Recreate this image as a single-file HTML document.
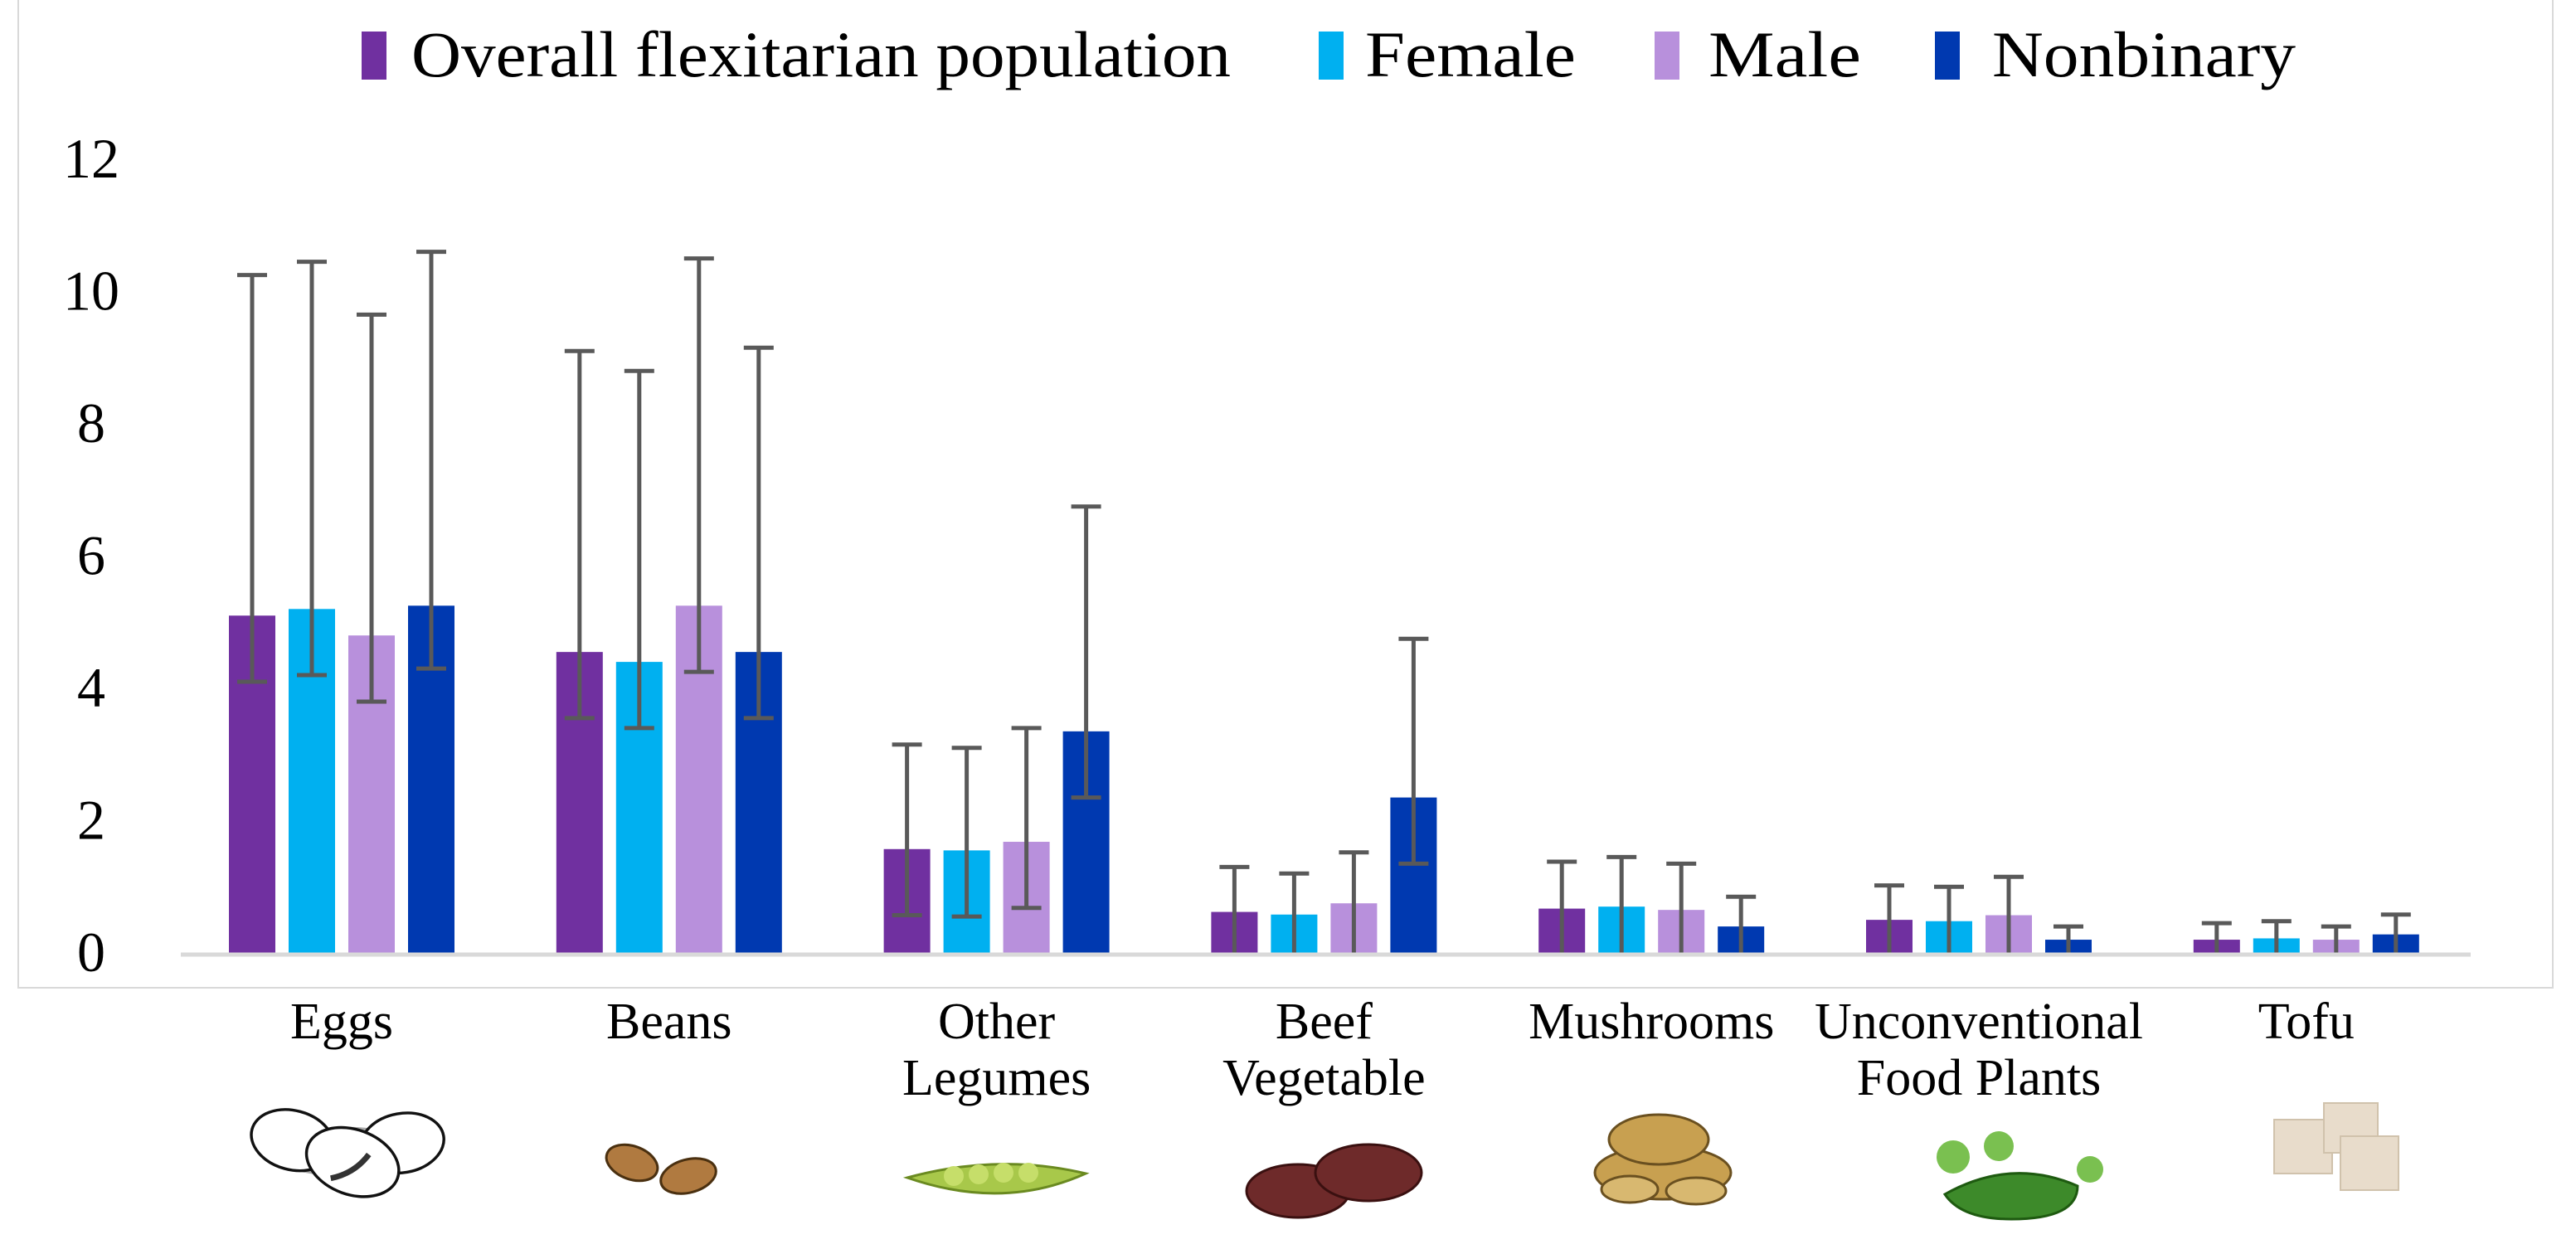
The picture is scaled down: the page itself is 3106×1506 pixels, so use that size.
<!DOCTYPE html>
<html><head><meta charset="utf-8"><style>
html,body{margin:0;padding:0;background:#fff;}
svg{display:block;font-family:"Liberation Serif",serif;}
</style></head><body>
<svg id="chart" width="3106" height="1506" viewBox="0 0 3106 1506">
<rect x="22" y="-2" width="3056" height="1193" fill="none" stroke="#d9d9d9" stroke-width="2"/>
<g>
 <rect x="436" y="38" width="30" height="58" fill="#7030a0"/>
 <text x="496" y="92" font-size="78" textLength="988" lengthAdjust="spacingAndGlyphs">Overall flexitarian population</text>
 <rect x="1590" y="38" width="30" height="58" fill="#00b0f0"/>
 <text x="1646" y="92" font-size="78" textLength="254" lengthAdjust="spacingAndGlyphs">Female</text>
 <rect x="1995" y="38" width="30" height="58" fill="#b890dc"/>
 <text x="2060" y="92" font-size="78" textLength="184" lengthAdjust="spacingAndGlyphs">Male</text>
 <rect x="2333" y="38" width="30" height="58" fill="#0039b0"/>
 <text x="2402" y="92" font-size="78" textLength="366" lengthAdjust="spacingAndGlyphs">Nonbinary</text>
</g>
<g id="yaxis"></g>
<g id="bars"></g>
<g id="errs"></g>
<line x1="218" y1="1151" x2="2979" y2="1151" stroke="#d9d9d9" stroke-width="5"/>
<g id="xlabels"></g>
<g>
 <g fill="#fff" stroke="#111" stroke-width="3" transform="translate(416 1392) scale(1.15) translate(-360 -1395)">
  <ellipse cx="360" cy="1392" rx="80" ry="26" fill="#555" stroke="none" opacity="0.5"/>
  <ellipse cx="305" cy="1380" rx="44" ry="31" transform="rotate(15 305 1380)"/>
  <ellipse cx="420" cy="1383" rx="44" ry="31" transform="rotate(-10 420 1383)"/>
  <ellipse cx="368" cy="1403" rx="50" ry="34" transform="rotate(20 368 1403)"/>
  <path d="M345 1420 q25 -5 40 -25" stroke="#333" stroke-width="6" fill="none"/>
 </g>
 <g fill="#b07a40" stroke="#4a3010" stroke-width="3">
  <ellipse cx="762" cy="1402" rx="32" ry="20" transform="rotate(20 762 1402)"/>
  <ellipse cx="830" cy="1418" rx="34" ry="20" transform="rotate(-15 830 1418)"/>
 </g>
 <g>
  <path d="M1094 1420 q110 -30 215 -5 q-100 45 -215 5z" fill="#a8c84a" stroke="#6a8a20" stroke-width="3"/>
  <circle cx="1150" cy="1418" r="12" fill="#c6de6a"/><circle cx="1180" cy="1416" r="12" fill="#c6de6a"/><circle cx="1210" cy="1414" r="12" fill="#c6de6a"/><circle cx="1240" cy="1414" r="12" fill="#c6de6a"/>
 </g>
 <g fill="#6e2a2a" stroke="#3a1010" stroke-width="3">
  <ellipse cx="1565" cy="1436" rx="62" ry="32"/>
  <ellipse cx="1650" cy="1414" rx="64" ry="34"/>
 </g>
 <g fill="#c8a050" stroke="#6a5020" stroke-width="3">
  <ellipse cx="2005" cy="1414" rx="82" ry="32"/>
  <ellipse cx="2000" cy="1374" rx="60" ry="30"/>
  <ellipse cx="1965" cy="1434" rx="34" ry="16" fill="#d8b870"/>
  <ellipse cx="2045" cy="1436" rx="36" ry="16" fill="#d8b870"/>
 </g>
 <g transform="translate(-20 0)">
  <path d="M2365 1440 q80 -45 160 -10 q0 40 -80 40 q-60 0 -80 -30z" fill="#3d8a2a" stroke="#1e5a10" stroke-width="3"/>
  <circle cx="2375" cy="1395" r="20" fill="#7ac050"/><circle cx="2430" cy="1382" r="18" fill="#7ac050"/><circle cx="2540" cy="1410" r="16" fill="#7ac050"/>
 </g>
 <g fill="#e8dccb" stroke="#d0c2ac" stroke-width="2">
  <rect x="2742" y="1350" width="70" height="65"/>
  <rect x="2802" y="1330" width="65" height="60"/>
  <rect x="2822" y="1370" width="70" height="65"/>
 </g>
</g>
</svg>
<script>
const categories=[["Eggs"],["Beans"],["Other","Legumes"],["Beef","Vegetable"],["Mushrooms"],["Unconventional","Food Plants"],["Tofu"]];
const seriesNames=["Overall flexitarian population","Female","Male","Nonbinary"];
const overall=[5.1,4.55,1.57,0.62,0.67,0.5,0.2];
const female=[5.2,4.4,1.55,0.58,0.7,0.48,0.22];
const male=[4.8,5.25,1.68,0.75,0.65,0.57,0.2];
const nonbinary=[5.25,4.55,3.35,2.35,0.4,0.2,0.28];
const overallHi=[10.25,9.1,3.15,1.3,1.38,1.02,0.45];
const femaleHi=[10.45,8.8,3.1,1.2,1.45,1.0,0.48];
const maleHi=[9.65,10.5,3.4,1.52,1.35,1.15,0.4];
const nonbinaryHi=[10.6,9.15,6.75,4.75,0.85,0.4,0.58];
const overallLo=[4.1,3.55,0.57,0,0,0,0];
const femaleLo=[4.2,3.4,0.55,0,0,0,0];
const maleLo=[3.8,4.25,0.68,0,0,0,0];
const nonbinaryLo=[4.3,3.55,2.35,1.35,0,0,0];
const yTicks=[0,2,4,6,8,10,12];
const colors=["#7030a0","#00b0f0","#b890dc","#0039b0"];
const vals=[overall,female,male,nonbinary],his=[overallHi,femaleHi,maleHi,nonbinaryHi],los=[overallLo,femaleLo,maleLo,nonbinaryLo];
const NS="http://www.w3.org/2000/svg";
const y0=1149,yTop=192,yMax=12;
function y(v){return y0-(v/yMax)*(y0-yTop);}
function gx(i){return 412+i*394.8;}
function bx(i,s){return gx(i)+(s-1.5)*72;}
function mk(t,a,p){const e=document.createElementNS(NS,t);for(const k in a)e.setAttribute(k,a[k]);p.appendChild(e);return e;}
const ya=document.getElementById('yaxis');
yTicks.forEach(t=>{const e=mk('text',{x:110,y:y(t)+22,'font-size':68,'text-anchor':'middle'},ya);e.textContent=t;

});
const bg=document.getElementById('bars'),eg=document.getElementById('errs');
categories.forEach((c,i)=>{vals.forEach((arr,s)=>{const cx=bx(i,s);
const r=mk('rect',{x:cx-28,y:y(arr[i]),width:56,height:y0-y(arr[i]),fill:colors[s]},bg);


const g=mk('g',{stroke:'#595959','stroke-width':5},eg);


mk('line',{x1:cx,x2:cx,y1:y(his[s][i]),y2:y(los[s][i])},g);
mk('line',{x1:cx-18,x2:cx+18,y1:y(his[s][i]),y2:y(his[s][i])},g);
if(los[s][i]>0)mk('line',{x1:cx-18,x2:cx+18,y1:y(los[s][i]),y2:y(los[s][i])},g);
});
const xl=document.getElementById('xlabels');
c.forEach((ln,k)=>{const t=mk('text',{x:gx(i),y:1252+k*68,'font-size':62,'text-anchor':'middle'},xl);t.textContent=ln;

});
});
</script>
</body></html>
